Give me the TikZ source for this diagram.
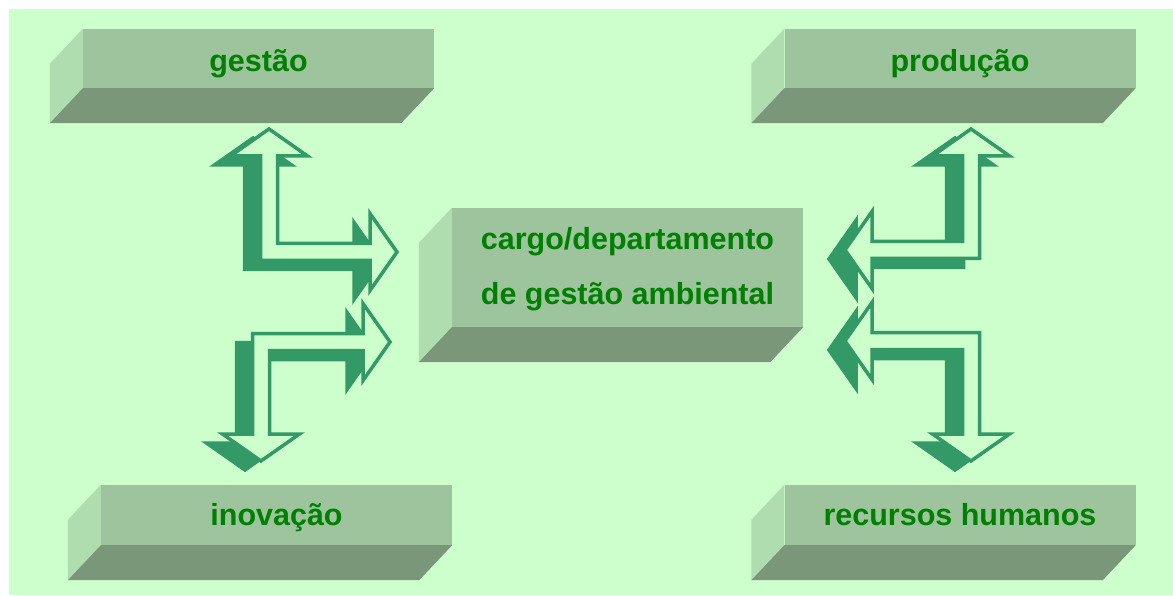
\documentclass[tikz,border=0pt]{standalone}
\usepackage{fontspec}
\setmainfont{Liberation Sans}
\usetikzlibrary{calc}

\definecolor{bggreen}{HTML}{CCFFCC}
\definecolor{slabfront}{HTML}{9DC49D}
\definecolor{slabside}{HTML}{B0DDB0}
\definecolor{slabbottom}{HTML}{7A977A}
\definecolor{labelgreen}{HTML}{008000}
\definecolor{arrowgreen}{HTML}{339966}

\tikzset{
  slab/.style={fill=slabfront, minimum width=351pt, inner sep=0pt, text=labelgreen,
    font=\bfseries\fontsize{30.5pt}{55pt}\selectfont, align=center},
  elbowshadow/.style={fill=arrowgreen, draw=arrowgreen, line width=3.5pt},
  elbowfront/.style={fill=bggreen, draw=arrowgreen, line width=3.5pt}
}

\def\shaftw{8.5pt}
\def\headw{38.5pt}
\def\headl{27pt}

% #1 corner, #2 end of the vertical arm, #3 end of the horizontal arm
\newcommand{\elbowarrow}[3]{%
  \foreach \dx/\dy/\lay in {-16/9/elbowshadow, 0/0/elbowfront}{
    \path[\lay] let \p1=($(#1)+(\dx,\dy)$), \p2=($(#2)+(\dx,\dy)$), \p3=($(#3)+(\dx,\dy)$),
      \n1={sign(\y2-\y1)}, \n2={sign(\x3-\x1)} in
      (\x1,\y2)
      -- ({\x1-(\n2)*\headw},{\y2-(\n1)*\headl})
      -- ({\x1-(\n2)*\shaftw},{\y2-(\n1)*\headl})
      -- ({\x1-(\n2)*\shaftw},{\y1-(\n1)*\shaftw})
      -- ({\x3-(\n2)*\headl},{\y1-(\n1)*\shaftw})
      -- ({\x3-(\n2)*\headl},{\y1-(\n1)*\headw})
      -- (\x3,\y1)
      -- ({\x3-(\n2)*\headl},{\y1+(\n1)*\headw})
      -- ({\x3-(\n2)*\headl},{\y1+(\n1)*\shaftw})
      -- ({\x1+(\n2)*\shaftw},{\y1+(\n1)*\shaftw})
      -- ({\x1+(\n2)*\shaftw},{\y2-(\n1)*\headl})
      -- ({\x1+(\n2)*\headw},{\y2-(\n1)*\headl})
      -- cycle;
  }
}

% side and bottom faces of a slab
\newcommand{\slabsides}[1]{%
  \fill[slabside] (#1.north west) -- ++(-33,35) -- ($(#1.south west)+(-33,35)$) -- (#1.south west) -- cycle;
  \fill[slabbottom] (#1.south west) -- (#1.south east) -- ++(-33,35) -- ($(#1.south west)+(-33,35)$) -- cycle;
}

\begin{document}
\begin{tikzpicture}[x=1pt,y=-1pt]
  \useasboundingbox (0,0) rectangle (1173,596);
  \fill[bggreen] (9,9) rectangle (1173,595);

  \node[slab, minimum height=59pt, text height=27pt, text depth=0pt] (gestao) at (258.5,58.5) {gestão};
  \node[slab, minimum height=59pt, text height=27pt, text depth=0pt] (producao) at (960,58.5) {produção};
  \node[slab, minimum height=119pt, text height=75pt, text depth=0pt] (cargo) at (627.5,267.5) {cargo/departamento\\de gestão ambiental};
  \node[slab, minimum height=60pt, text height=22pt, text depth=2pt] (inovacao) at (276.5,515) {inovação};
  \node[slab, minimum height=60pt, text height=22pt, text depth=2pt] (recursos) at (960,515) {recursos humanos};
  \foreach \b in {gestao, producao, cargo, inovacao, recursos}
    \slabsides{\b};

  \coordinate (gc) at (269,252);
  \coordinate (gt) at (269,129);
  \coordinate (gct) at (397,252);
  \coordinate (ic) at (261,342);
  \coordinate (it) at (261,461);
  \coordinate (ict) at (390,342);
  \coordinate (pc) at (971,250);
  \coordinate (pt) at (971,129);
  \coordinate (pct) at (845,250);
  \coordinate (rc) at (971,341);
  \coordinate (rt) at (971,461);
  \coordinate (rct) at (845,341);

  \elbowarrow{gc}{gt}{gct}
  \elbowarrow{ic}{it}{ict}
  \elbowarrow{pc}{pt}{pct}
  \elbowarrow{rc}{rt}{rct}
\end{tikzpicture}
\end{document}
